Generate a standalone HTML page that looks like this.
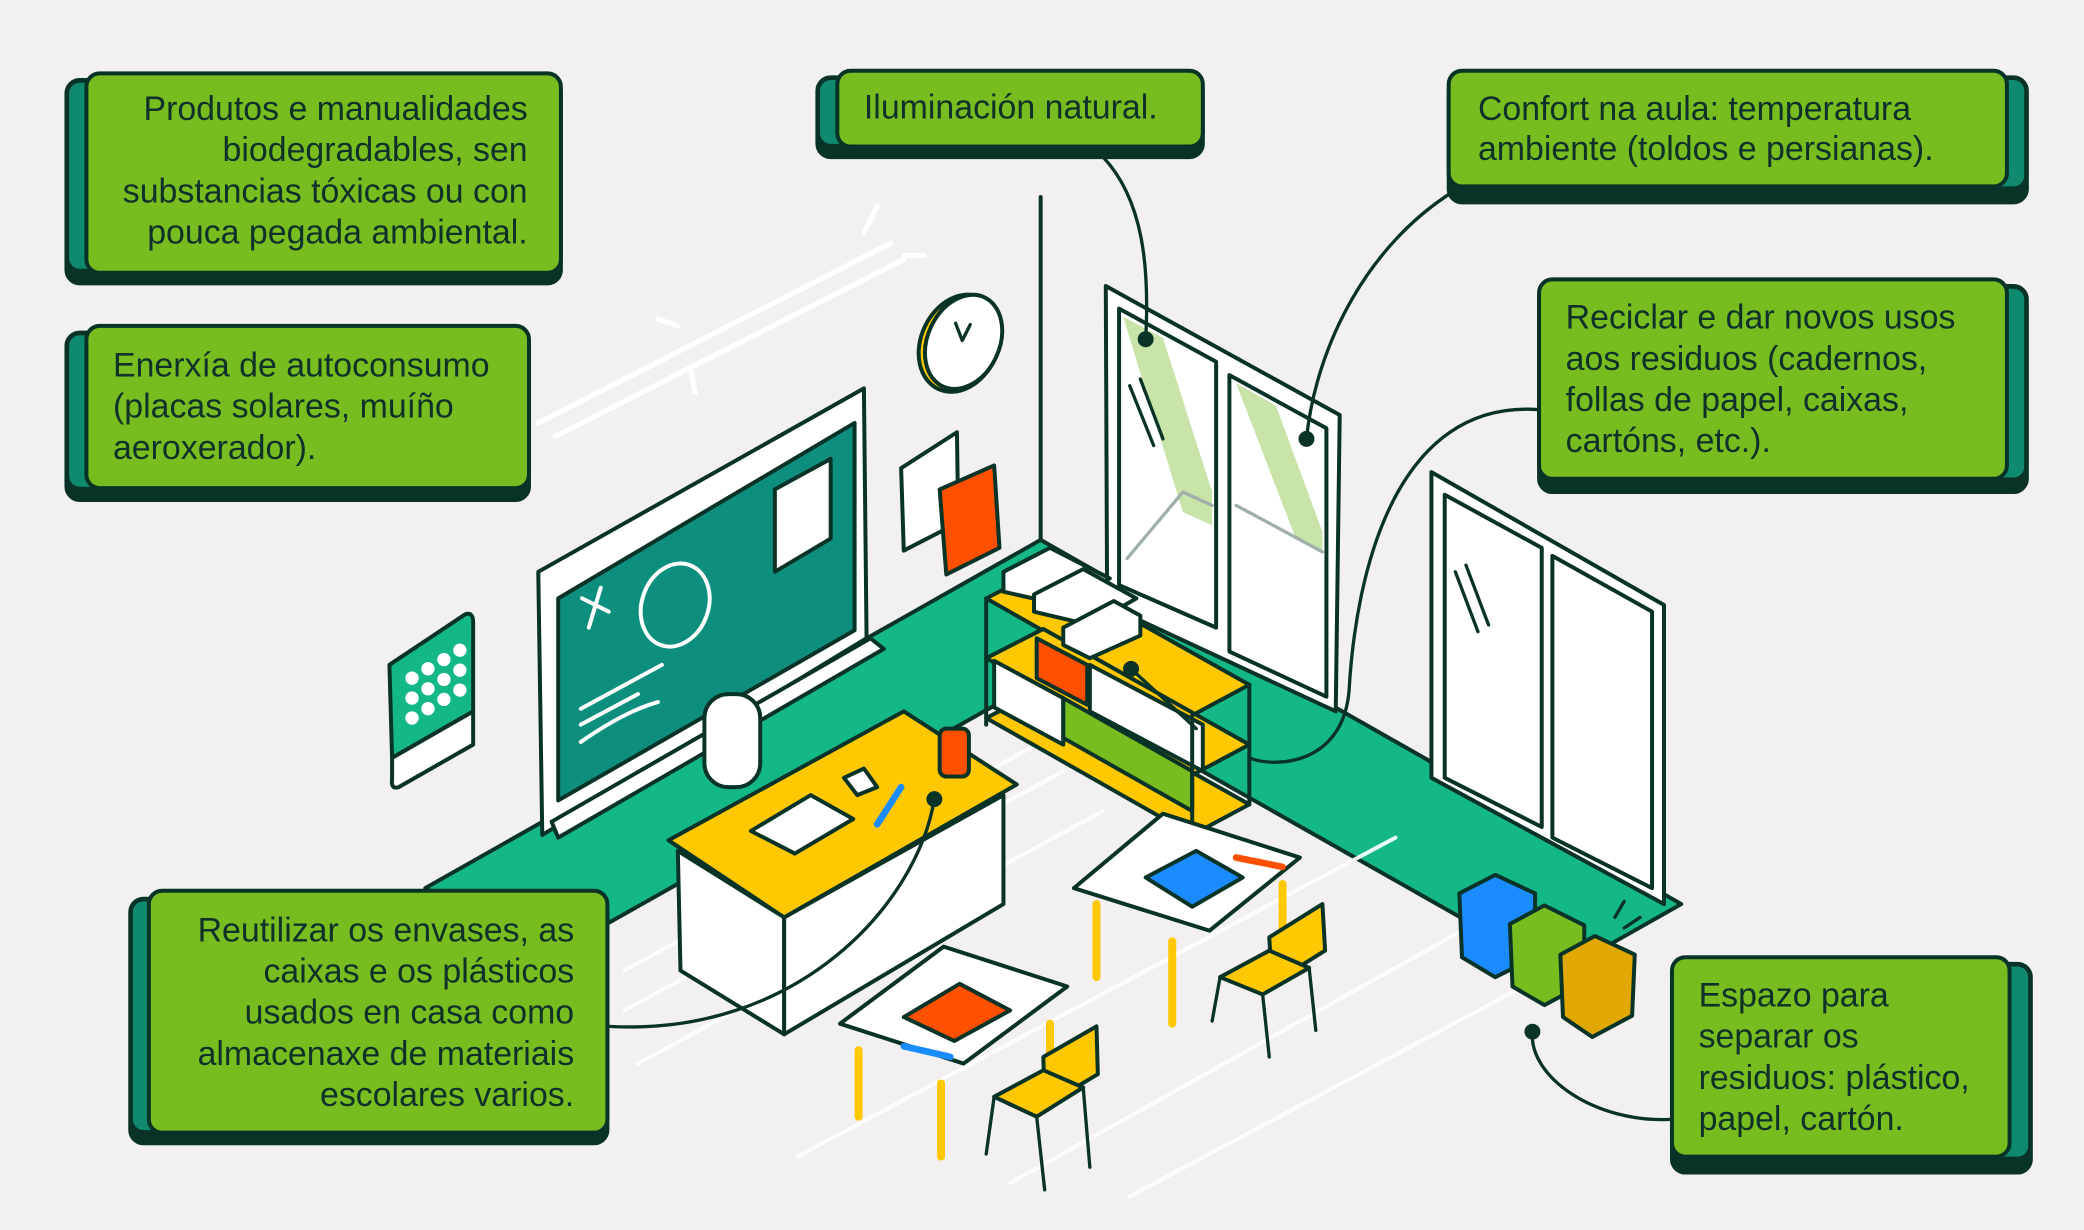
<!DOCTYPE html>
<html><head><meta charset="utf-8"><style>
html,body{margin:0;padding:0;background:#f2f0f0;}
svg{display:block;}
text{font-family:"Liberation Sans",sans-serif;font-size:25.5px;fill:#10302a;}
</style></head><body>
<svg width="2084" height="1230" viewBox="0 0 1568 925" xmlns="http://www.w3.org/2000/svg">
<rect width="1568" height="925" fill="#f2f0f0"/>
<g stroke="#0a3328" stroke-width="3" stroke-linejoin="round" stroke-linecap="round">
<polygon points="783,406 320,668 412,720 783,511 1173,732 1265,680" fill="#14b886"/>
<g stroke="#ffffff" stroke-width="3" opacity="0.9">
<line x1="470" y1="730" x2="780" y2="560"/><line x1="470" y1="760" x2="800" y2="580"/>
<line x1="480" y1="800" x2="830" y2="610"/><line x1="600" y1="870" x2="1050" y2="630"/>
<line x1="760" y1="890" x2="1100" y2="700"/><line x1="850" y1="900" x2="1150" y2="740"/>
</g>
<line x1="783" y1="148" x2="783" y2="406"/>
<g stroke="#ffffff" stroke-width="4">
<line x1="405" y1="318" x2="670" y2="183"/><line x1="418" y1="328" x2="680" y2="195"/>
<line x1="650" y1="175" x2="660" y2="155"/><line x1="680" y1="192" x2="695" y2="192"/>
<line x1="495" y1="240" x2="510" y2="245"/><line x1="520" y1="280" x2="523" y2="295"/>
</g>
<polygon points="405,430 650,292 652,480 408,628" fill="#ffffff"/>
<polygon points="420,450 643,318 643,474 420,602" fill="#0e8f7e"/>
<polygon points="583,368 625,345 625,405 583,430" fill="#ffffff"/>
<polygon points="415,618 655,480 665,488 420,630" fill="#ffffff"/>
<g stroke="#ffffff" stroke-width="3"><line x1="438" y1="450" x2="458" y2="460"/><line x1="452" y1="442" x2="443" y2="472"/>
<ellipse cx="508" cy="455" rx="25" ry="32" fill="none" transform="rotate(20 508 455)"/>
<line x1="437" y1="533" x2="498" y2="500"/><line x1="437" y1="545" x2="480" y2="522"/><path d="M437 558 Q470 535 495 528" fill="none"/></g>
<path d="M293 500 L350 462 Q356 460 356 468 L356 535 L295 570 Z" fill="#14b886"/>
<path d="M295 570 L356 535 L356 560 L300 592 Q294 594 295 586 Z" fill="#ffffff"/>
<g fill="#ffffff" stroke="none"><circle cx="310" cy="510" r="5"/><circle cx="322" cy="503" r="5"/><circle cx="334" cy="496" r="5"/><circle cx="346" cy="489" r="5"/>
<circle cx="310" cy="525" r="5"/><circle cx="322" cy="518" r="5"/><circle cx="334" cy="511" r="5"/><circle cx="346" cy="504" r="5"/>
<circle cx="310" cy="540" r="5"/><circle cx="322" cy="533" r="5"/><circle cx="334" cy="526" r="5"/><circle cx="346" cy="519" r="5"/></g>
<ellipse cx="722" cy="258" rx="29" ry="38" fill="#ffc800" transform="rotate(25 722 258)"/>
<ellipse cx="725" cy="257" rx="27" ry="37" fill="#ffffff" transform="rotate(25 725 257)"/>
<path d="M719 243 L724 256 L730 244" fill="none" stroke-width="2.5"/>
<polygon points="678,352 720,325 721,393 680,414" fill="#ffffff"/>
<polygon points="707,368 748,350 752,412 712,432" fill="#ff5000"/>
<!-- windows -->
<polygon points="832,215 1008,312 1005,535 833,455" fill="#ffffff"/>
<g fill="#c8e4a8" stroke="none">
<polygon points="845,238 875,254 912,370 912,395 890,385"/><polygon points="930,288 960,305 995,400 995,415 975,405"/>
<polygon points="1090,378 1120,394 1158,505 1158,530 1135,520"/><polygon points="1172,425 1200,440 1240,545 1240,565 1215,555"/>
</g>
<g fill="none" stroke="#9fb0aa" stroke-width="2.5">
<path d="M848 420 L890 370 L912 380"/><path d="M930 380 L995 415"/>
<path d="M1092 560 L1135 515 L1158 525"/><path d="M1172 520 L1240 560"/>
</g>
<polygon points="842,232 915,272 915,472 842,440" fill="none"/>
<polygon points="925,282 998,322 998,524 925,490" fill="none"/>
<polygon points="1077,355 1252,455 1252,680 1077,585" fill="#ffffff"/>
<polygon points="1087,372 1160,412 1160,622 1087,585" fill="none"/>
<polygon points="1168,418 1243,460 1243,668 1168,630" fill="none"/>
<g stroke-width="2.5"><line x1="850" y1="290" x2="868" y2="335"/><line x1="858" y1="285" x2="875" y2="330"/><line x1="1095" y1="430" x2="1112" y2="475"/><line x1="1103" y1="425" x2="1120" y2="470"/></g>
<!-- shelf -->
<polygon points="742,450 785,428 940,515 897,538" fill="#ffc800"/>
<polygon points="742,495 785,473 940,560 897,583" fill="#ffc800"/>
<polygon points="742,540 785,518 940,605 897,628" fill="#ffc800"/>
<polygon points="748,497 800,525 800,560 748,532" fill="#ffffff"/>
<polygon points="800,525 897,580 897,610 800,555" fill="#78bd20"/>
<polygon points="780,480 818,500 818,530 780,510" fill="#ff5000"/>
<polygon points="820,500 905,545 905,580 820,535" fill="#ffffff"/>
<polygon points="755,430 790,412 835,435 800,455 755,445" fill="#ffffff"/>
<polygon points="778,447 815,428 855,450 820,470 778,460" fill="#ffffff"/>
<polygon points="800,472 838,452 858,463 858,478 820,495 800,485" fill="#ffffff"/>
<line x1="742" y1="450" x2="742" y2="545"/><line x1="897" y1="538" x2="897" y2="630"/><line x1="940" y1="515" x2="940" y2="605"/>
<!-- teacher desk -->
<polygon points="510,640 590,690 590,778 512,730" fill="#ffffff"/>
<polygon points="590,690 755,598 755,680 590,778" fill="#ffffff"/>
<rect x="530" y="522" width="42" height="70" rx="18" fill="#ffffff"/>
<polygon points="503,632 680,535 765,590 590,690" fill="#ffc800"/>
<polygon points="565,625 610,598 642,616 598,642" fill="#ffffff"/>
<polygon points="635,585 650,578 660,592 645,598" fill="#ffffff"/>
<rect x="707" y="548" width="22" height="36" rx="5" fill="#ff5000"/>
<line x1="660" y1="620" x2="678" y2="592" stroke="#1a8cff" stroke-width="5"/>
<!-- student desk 1 -->
<line x1="825" y1="680" x2="825" y2="735" stroke="#ffc800" stroke-width="6"/><line x1="882" y1="708" x2="882" y2="770" stroke="#ffc800" stroke-width="6"/><line x1="965" y1="665" x2="965" y2="700" stroke="#ffc800" stroke-width="6"/>
<polygon points="808,668 875,612 978,645 910,700" fill="#ffffff"/>
<polygon points="862,660 900,640 935,660 897,682" fill="#1a8cff"/>
<line x1="930" y1="645" x2="965" y2="652" stroke="#ff5000" stroke-width="5"/>
<!-- chair 1 -->
<g stroke-width="2.5"><line x1="918" y1="735" x2="912" y2="768"/><line x1="950" y1="748" x2="955" y2="795"/><line x1="985" y1="728" x2="990" y2="775"/></g>
<polygon points="955,705 995,680 997,715 957,740" fill="#ffc800"/>
<polygon points="918,735 955,715 985,728 950,748" fill="#ffc800"/>
<!-- student desk 2 -->
<line x1="646" y1="790" x2="646" y2="840" stroke="#ffc800" stroke-width="6"/><line x1="708" y1="815" x2="708" y2="870" stroke="#ffc800" stroke-width="6"/><line x1="790" y1="770" x2="790" y2="800" stroke="#ffc800" stroke-width="6"/>
<polygon points="632,770 710,712 803,742 725,800" fill="#ffffff"/>
<polygon points="680,765 722,740 760,760 718,783" fill="#ff5000"/>
<line x1="680" y1="787" x2="715" y2="795" stroke="#1a8cff" stroke-width="5"/>
<!-- chair 2 -->
<g stroke-width="2.5"><line x1="748" y1="825" x2="742" y2="868"/><line x1="780" y1="840" x2="786" y2="895"/><line x1="815" y1="818" x2="820" y2="878"/></g>
<polygon points="785,795 825,772 826,808 786,832" fill="#ffc800"/>
<polygon points="748,825 785,805 815,818 780,840" fill="#ffc800"/>
<!-- bins -->
<polygon points="1098,672 1125,658 1155,672 1155,720 1125,735 1100,720" fill="#1a8cff"/>
<polygon points="1136,695 1162,681 1192,696 1192,740 1162,756 1138,742" fill="#78bd20"/>
<polygon points="1174,718 1200,704 1230,718 1228,764 1198,780 1176,765" fill="#e0a800"/>
<g stroke="#0a3328" stroke-width="2.5"><line x1="1215" y1="690" x2="1222" y2="678"/><line x1="1222" y1="698" x2="1234" y2="690"/></g>
<g fill="none" stroke-width="2.5">
<path d="M830 118 C860 150 865 200 862 255"/>
<path d="M1100 140 C1030 180 990 260 983 330"/>
<path d="M1158 308 C1050 300 1020 430 1015 520 C1010 575 960 578 940 570"/>
<path d="M851 503 L900 548"/>
<path d="M458 772 C600 780 690 680 703 601"/>
<path d="M1258 842 C1200 845 1150 810 1153 776"/>
</g>
<g fill="#0a3328" stroke="none"><circle cx="862" cy="255" r="6"/><circle cx="983" cy="330" r="6"/><circle cx="851" cy="503" r="6"/><circle cx="703" cy="601" r="6"/><circle cx="1153" cy="776" r="6"/></g>
<!-- box shadows: dark base -->
<g fill="#0a3328">
<rect x="50" y="60" width="372" height="153" rx="10"/>
<rect x="50" y="250" width="348" height="126" rx="10"/>
<rect x="615" y="58" width="290" height="60" rx="10"/>
<rect x="1090" y="58" width="435" height="94" rx="10"/>
<rect x="1158" y="215" width="367" height="155" rx="10"/>
<rect x="98" y="676" width="359" height="184" rx="10"/>
<rect x="1258" y="725" width="270" height="157" rx="10"/>
</g>
<g fill="#0f8a6e" stroke="none">
<rect x="52" y="62" width="30" height="140" rx="8"/>
<rect x="52" y="252" width="30" height="114" rx="8"/>
<rect x="617" y="60" width="30" height="48" rx="8"/>
<rect x="1493" y="60" width="30" height="80" rx="8"/>
<rect x="1493" y="217" width="30" height="142" rx="8"/>
<rect x="100" y="678" width="30" height="172" rx="8"/>
<rect x="1496" y="727" width="30" height="143" rx="8"/>
</g>
<g fill="#78bd20">
<rect x="65" y="55" width="357" height="150" rx="10"/>
<rect x="65" y="245" width="333" height="122" rx="10"/>
<rect x="630" y="53" width="275" height="57" rx="10"/>
<rect x="1090" y="53" width="420" height="87" rx="10"/>
<rect x="1158" y="210" width="352" height="150" rx="10"/>
<rect x="112" y="670" width="345" height="182" rx="10"/>
<rect x="1258" y="720" width="254" height="150" rx="10"/>
</g>
</g>
<g>
<text x="397" y="90" text-anchor="end">Produtos e manualidades</text>
<text x="397" y="121" text-anchor="end">biodegradables, sen</text>
<text x="397" y="152" text-anchor="end">substancias tóxicas ou con</text>
<text x="397" y="183" text-anchor="end">pouca pegada ambiental.</text>
<text x="85" y="283">Enerxía de autoconsumo</text>
<text x="85" y="314">(placas solares, muíño</text>
<text x="85" y="345">aeroxerador).</text>
<text x="650" y="89">Iluminación natural.</text>
<text x="1112" y="90">Confort na aula: temperatura</text>
<text x="1112" y="120">ambiente (toldos e persianas).</text>
<text x="1178" y="247">Reciclar e dar novos usos</text>
<text x="1178" y="278">aos residuos (cadernos,</text>
<text x="1178" y="309">follas de papel, caixas,</text>
<text x="1178" y="340">cartóns, etc.).</text>
<text x="432" y="708" text-anchor="end">Reutilizar os envases, as</text>
<text x="432" y="739" text-anchor="end">caixas e os plásticos</text>
<text x="432" y="770" text-anchor="end">usados en casa como</text>
<text x="432" y="801" text-anchor="end">almacenaxe de materiais</text>
<text x="432" y="832" text-anchor="end">escolares varios.</text>
<text x="1278" y="757">Espazo para</text>
<text x="1278" y="788">separar os</text>
<text x="1278" y="819">residuos: plástico,</text>
<text x="1278" y="850">papel, cartón.</text>
</g>
</svg>
</body></html>
